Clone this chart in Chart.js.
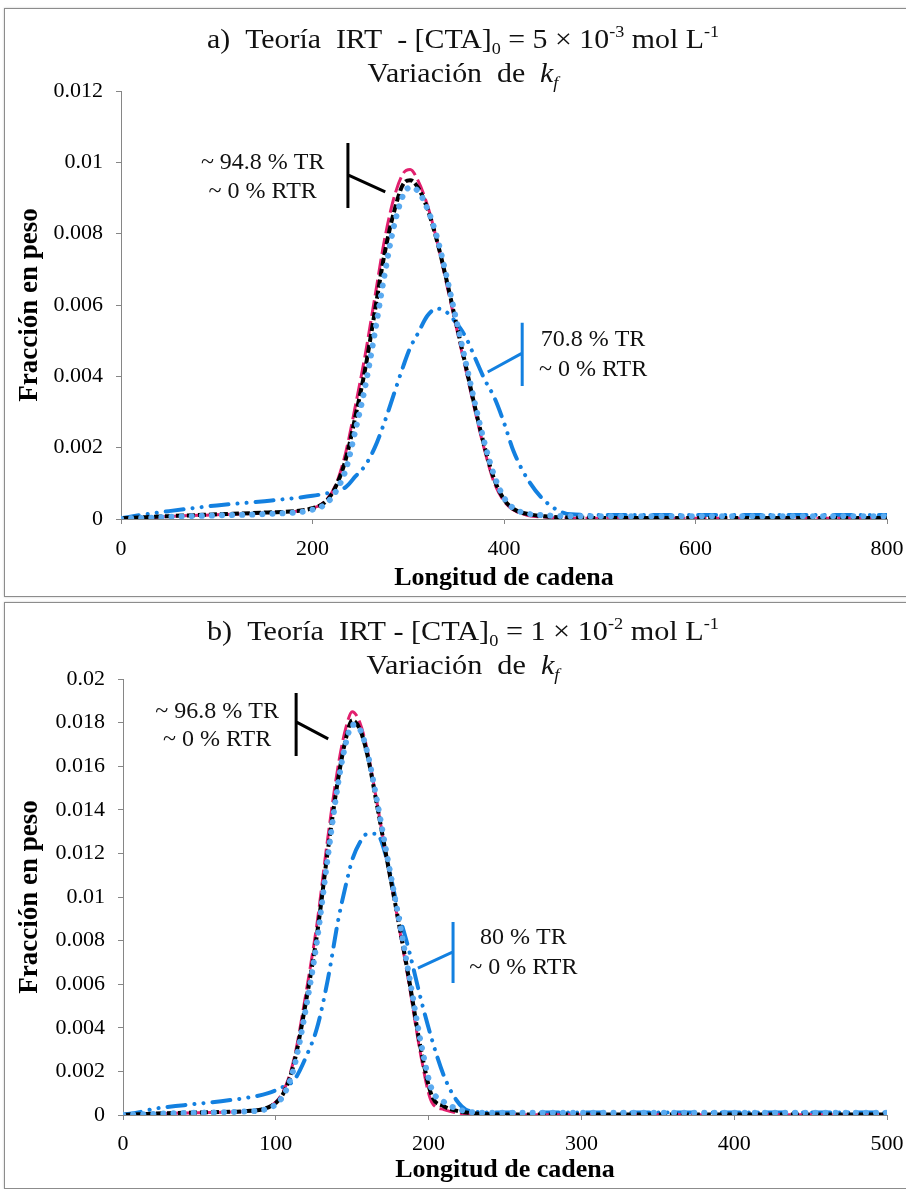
<!DOCTYPE html>
<html>
<head>
<meta charset="utf-8">
<script src="https://cdn.jsdelivr.net/npm/chart.js@4.4.0/dist/chart.umd.min.js"></script>
<style>
  body { margin: 0; background: #fff; }
  .panel { position: absolute; left: 4px; width: 903px; border: 1px solid #8c8c8c; box-sizing: border-box; background: #fff; box-shadow: 0 0 2px #c8c8c8; }
  #pa { top: 8px; height: 589px; }
  #pb { top: 602px; height: 587px; }
  canvas { display: block; }
</style>
</head>
<body>
<div class="panel" id="pa"><canvas id="chartA" width="900" height="587"></canvas></div>
<div class="panel" id="pb"><canvas id="chartB" width="900" height="585"></canvas></div>
<script>
// chain length grid and weight fractions, panel a ([CTA]0 = 5e-3)
const lenA = [0, 25, 50, 100, 150, 200, 215, 225, 235, 245, 255, 265, 275, 285, 295, 302, 310, 320, 330, 340, 350, 360, 370, 380, 390, 400, 410, 425, 445, 470, 500, 600, 700, 800];
const magentaA = [0.00001, 0.00003, 0.00007, 0.00012, 0.00017, 0.0003, 0.00055, 0.001, 0.0019, 0.0032, 0.0046, 0.0062, 0.0078, 0.0090, 0.0097, 0.0098, 0.0095, 0.0088, 0.0078, 0.0066, 0.0054, 0.0042, 0.0030, 0.0019, 0.0010, 0.0005, 0.00025, 0.0001, 0.00005, 0.00002, 0.00002, 0.00002, 0.00002, 0.00002];
const blackA = [0.00002, 0.00005, 0.00008, 0.00013, 0.00018, 0.0003, 0.00052, 0.00095, 0.0017, 0.0029, 0.0042, 0.0058, 0.0074, 0.0086, 0.0094, 0.0095, 0.0093, 0.0087, 0.0078, 0.0067, 0.0055, 0.0043, 0.0031, 0.0020, 0.0011, 0.00055, 0.00028, 0.00014, 0.00007, 0.00004, 0.00003, 0.00003, 0.00003, 0.00003];
const lightA = [0.00001, 0.00003, 0.00006, 0.0001, 0.00014, 0.00026, 0.00045, 0.0008, 0.0014, 0.0025, 0.0037, 0.0052, 0.0068, 0.0082, 0.0091, 0.0093, 0.0092, 0.0087, 0.0079, 0.0068, 0.0056, 0.0044, 0.0032, 0.0021, 0.0012, 0.0006, 0.0003, 0.00015, 0.0001, 0.00008, 0.00008, 0.00008, 0.00008, 0.00008];
const blueA = [0.00002, 0.00013, 0.00022, 0.00038, 0.0005, 0.00065, 0.00072, 0.00078, 0.0009, 0.0012, 0.0015, 0.0020, 0.0027, 0.0035, 0.0043, 0.0048, 0.0052, 0.0057, 0.0059, 0.0058, 0.0055, 0.0051, 0.0045, 0.0039, 0.0034, 0.0027, 0.0019, 0.0011, 0.00045, 0.00013, 0.00011, 0.00011, 0.00011, 0.00011];

// panel b ([CTA]0 = 1e-2)
const lenB = [0, 10, 20, 40, 60, 80, 95, 105, 112, 120, 127, 134, 141, 146, 150, 155, 160, 166, 172, 180, 187, 195, 202, 210, 218, 226, 240, 270, 300, 400, 500];
const magentaB = [0, 0.00002, 0.00005, 0.00009, 0.00012, 0.00017, 0.00035, 0.0011, 0.0026, 0.0057, 0.0088, 0.0127, 0.0161, 0.0178, 0.0185, 0.0180, 0.0167, 0.0144, 0.0120, 0.0089, 0.0061, 0.0027, 0.0006, 0.00025, 0.0001, 0.00005, 0.00002, 0.00001, 0.00001, 0.00001, 0.00001];
const blackB = [0.00001, 0.00003, 0.00006, 0.0001, 0.00013, 0.00018, 0.00035, 0.001, 0.0024, 0.0053, 0.0083, 0.0121, 0.0155, 0.0173, 0.0181, 0.0177, 0.0165, 0.0143, 0.0120, 0.0090, 0.0063, 0.0030, 0.0009, 0.0004, 0.0002, 0.0001, 0.00004, 0.00002, 0.00002, 0.00002, 0.00002];
const lightB = [0.00001, 0.00003, 0.00005, 0.00009, 0.00012, 0.00016, 0.0003, 0.0009, 0.0022, 0.005, 0.008, 0.0118, 0.0153, 0.0171, 0.0179, 0.0177, 0.0166, 0.0145, 0.0122, 0.0092, 0.0065, 0.0033, 0.0012, 0.0006, 0.0003, 0.00015, 0.0001, 0.0001, 0.0001, 0.0001, 0.0001];
const blueB = [0.00002, 0.00012, 0.00028, 0.00045, 0.0006, 0.00078, 0.001, 0.0013, 0.0016, 0.0027, 0.004, 0.0062, 0.009, 0.0106, 0.0117, 0.0125, 0.0129, 0.0129, 0.0119, 0.0094, 0.0076, 0.0053, 0.0035, 0.0018, 0.0007, 0.0002, 0.00012, 0.00012, 0.00012, 0.00012, 0.00012];

const SERIF = "'Liberation Serif', 'Times New Roman', serif";
const AXIS = "#868686";
const MAGENTA = "#E2206E";
const LIGHT = "#5AAAF0";
const BLUE = "#1380E0";

const pts = (xs, ys) => xs.map((x, i) => ({ x: x, y: ys[i] }));
const fmtTick = v => String(+v.toFixed(3));

// one piece of rich text: t, sub, sup, it
function fontFor(p, size) {
  const s = (p.sub || p.sup) ? Math.round(size * 0.62) : size;
  return (p.it ? "italic " : "") + s + "px " + SERIF;
}

function richWidth(ctx, parts, size) {
  let w = 0;
  parts.forEach(p => { ctx.font = fontFor(p, size); p.w = ctx.measureText(p.t).width; w += p.w; });
  return w;
}

function drawRich(ctx, parts, cx, cy, size, sx) {
  const w = richWidth(ctx, parts, size);
  ctx.save();
  ctx.translate(cx, cy);
  ctx.scale(sx, 1);
  ctx.textBaseline = "middle";
  ctx.textAlign = "left";
  ctx.fillStyle = "#111";
  let x = -w / 2;
  parts.forEach(p => {
    ctx.font = fontFor(p, size);
    const dy = p.sub ? size * 0.3 : p.sup ? -size * 0.3 : 0;
    ctx.fillText(p.t, x, dy);
    x += p.w;
  });
  ctx.restore();
}

// titles and bracket labels
const decor = {
  id: "decor",
  afterDraw(chart, args, opts) {
    const ctx = chart.ctx;
    const xs = chart.scales.x, ys = chart.scales.y;
    const cx = chart.width / 2 + 8;
    const w1 = richWidth(ctx, opts.title[0], 28);
    const sx = 512 / w1;
    drawRich(ctx, opts.title[0], cx, opts.titleY[0], 28, sx);
    drawRich(ctx, opts.title[1], cx, opts.titleY[1], 28, sx);

    opts.notes.forEach(n => {
      ctx.save();
      ctx.strokeStyle = n.color;
      ctx.lineWidth = 3;
      const bx = xs.getPixelForValue(n.barX);
      ctx.beginPath();
      ctx.moveTo(bx, ys.getPixelForValue(n.barTop));
      ctx.lineTo(bx, ys.getPixelForValue(n.barBottom));
      ctx.moveTo(bx, ys.getPixelForValue(n.barMid));
      ctx.lineTo(xs.getPixelForValue(n.tipX), ys.getPixelForValue(n.tipY));
      ctx.stroke();
      ctx.fillStyle = "#111";
      ctx.font = "24px " + SERIF;
      ctx.textAlign = "center";
      ctx.textBaseline = "middle";
      n.lines.forEach((t, i) => {
        ctx.fillText(t, xs.getPixelForValue(n.textX), ys.getPixelForValue(n.textY[i]));
      });
      ctx.restore();
    });
  }
};

function series(xs, m, k, l, b) {
  return [
    { data: pts(xs, l), borderColor: LIGHT, borderWidth: 6, borderDash: [0.1, 10], borderCapStyle: "round", order: 1 },
    { data: pts(xs, k), borderColor: "#000", borderWidth: 4, borderDash: [8, 3], order: 2 },
    { data: pts(xs, m), borderColor: MAGENTA, borderWidth: 3, borderDash: [16, 5], order: 3 },
    { data: pts(xs, b), borderColor: BLUE, borderWidth: 4, borderDash: [18, 9, 0.1, 9, 0.1, 9], borderCapStyle: "round", order: 4 }
  ];
}

function makeChart(id, c) {
  return new Chart(document.getElementById(id), {
    type: "line",
    data: { datasets: c.datasets },
    plugins: [decor],
    options: {
      responsive: false,
      animation: false,
      devicePixelRatio: 1,
      layout: { padding: { top: c.top, right: 18, left: 0, bottom: 0 } },
      elements: { point: { radius: 0 }, line: { cubicInterpolationMode: "monotone", fill: false } },
      plugins: {
        legend: { display: false },
        tooltip: { enabled: false },
        decor: { title: c.title, titleY: c.titleY, notes: c.notes }
      },
      scales: {
        x: {
          type: "linear", min: 0, max: c.xMax,
          ticks: { stepSize: c.xStep, color: "#000", font: { family: SERIF, size: 22 }, padding: c.xPad, maxRotation: 0 },
          grid: { drawOnChartArea: false, drawTicks: true, tickLength: 5, color: AXIS },
          border: { color: AXIS },
          title: { display: true, text: "Longitud de cadena", color: "#000", font: { family: SERIF, size: 26, weight: "bold" }, padding: { top: 0, bottom: 2 } },
          afterFit: s => { s.height = c.xH; s.paddingRight = 0; s.paddingLeft = 0; }
        },
        y: {
          min: 0, max: c.yMax,
          ticks: { stepSize: 0.002, color: "#000", font: { family: SERIF, size: 22 }, padding: 13, callback: fmtTick },
          grid: { drawOnChartArea: false, drawTicks: true, tickLength: 5, color: AXIS },
          border: { color: AXIS },
          title: { display: true, text: "Fracción en peso", color: "#000", font: { family: SERIF, size: 27, weight: "bold" }, padding: { top: 9, bottom: 0 } },
          afterFit: s => { s.width = c.yW; }
        }
      }
    }
  });
}

makeChart("chartA", {
  datasets: series(lenA, magentaA, blackA, lightA, blueA),
  top: 82, xH: 77, yW: 116, xMax: 800, xStep: 200, yMax: 0.012, xPad: 12,
  titleY: [32, 66],
  title: [
    [{ t: "a)  Teoría  IRT  - [CTA]" }, { t: "0", sub: true }, { t: " = 5 × 10" }, { t: "-3", sup: true }, { t: " mol L" }, { t: "-1", sup: true }],
    [{ t: "Variación  de  " }, { t: "k", it: true }, { t: "f", it: true, sub: true }]
  ],
  notes: [
    { lines: ["~ 94.8 % TR", "~ 0 % RTR"], textX: 148, textY: [0.00998, 0.00917], color: "#000",
      barX: 237, barTop: 0.01054, barBottom: 0.00872, barMid: 0.00965, tipX: 276, tipY: 0.00917 },
    { lines: ["70.8 % TR", "~ 0 % RTR"], textX: 493, textY: [0.00502, 0.00418], color: BLUE,
      barX: 419, barTop: 0.0055, barBottom: 0.00373, barMid: 0.00465, tipX: 383, tipY: 0.00412 }
  ]
});

makeChart("chartB", {
  datasets: series(lenB, magentaB, blackB, lightB, blueB),
  top: 76, xH: 73, yW: 118, xMax: 500, xStep: 100, yMax: 0.02, xPad: 11,
  titleY: [30, 64],
  title: [
    [{ t: "b)  Teoría  IRT - [CTA]" }, { t: "0", sub: true }, { t: " = 1 × 10" }, { t: "-2", sup: true }, { t: " mol L" }, { t: "-1", sup: true }],
    [{ t: "Variación  de  " }, { t: "k", it: true }, { t: "f", it: true, sub: true }]
  ],
  notes: [
    { lines: ["~ 96.8 % TR", "~ 0 % RTR"], textX: 61.6, textY: [0.01849, 0.0172], color: "#000",
      barX: 113.3, barTop: 0.01936, barBottom: 0.01647, barMid: 0.01803, tipX: 134.3, tipY: 0.01725 },
    { lines: ["80 % TR", "~ 0 % RTR"], textX: 262, textY: [0.00812, 0.00674], color: BLUE,
      barX: 216, barTop: 0.00885, barBottom: 0.00605, barMid: 0.00748, tipX: 193, tipY: 0.00674 }
  ]
});
</script>
</body>
</html>
